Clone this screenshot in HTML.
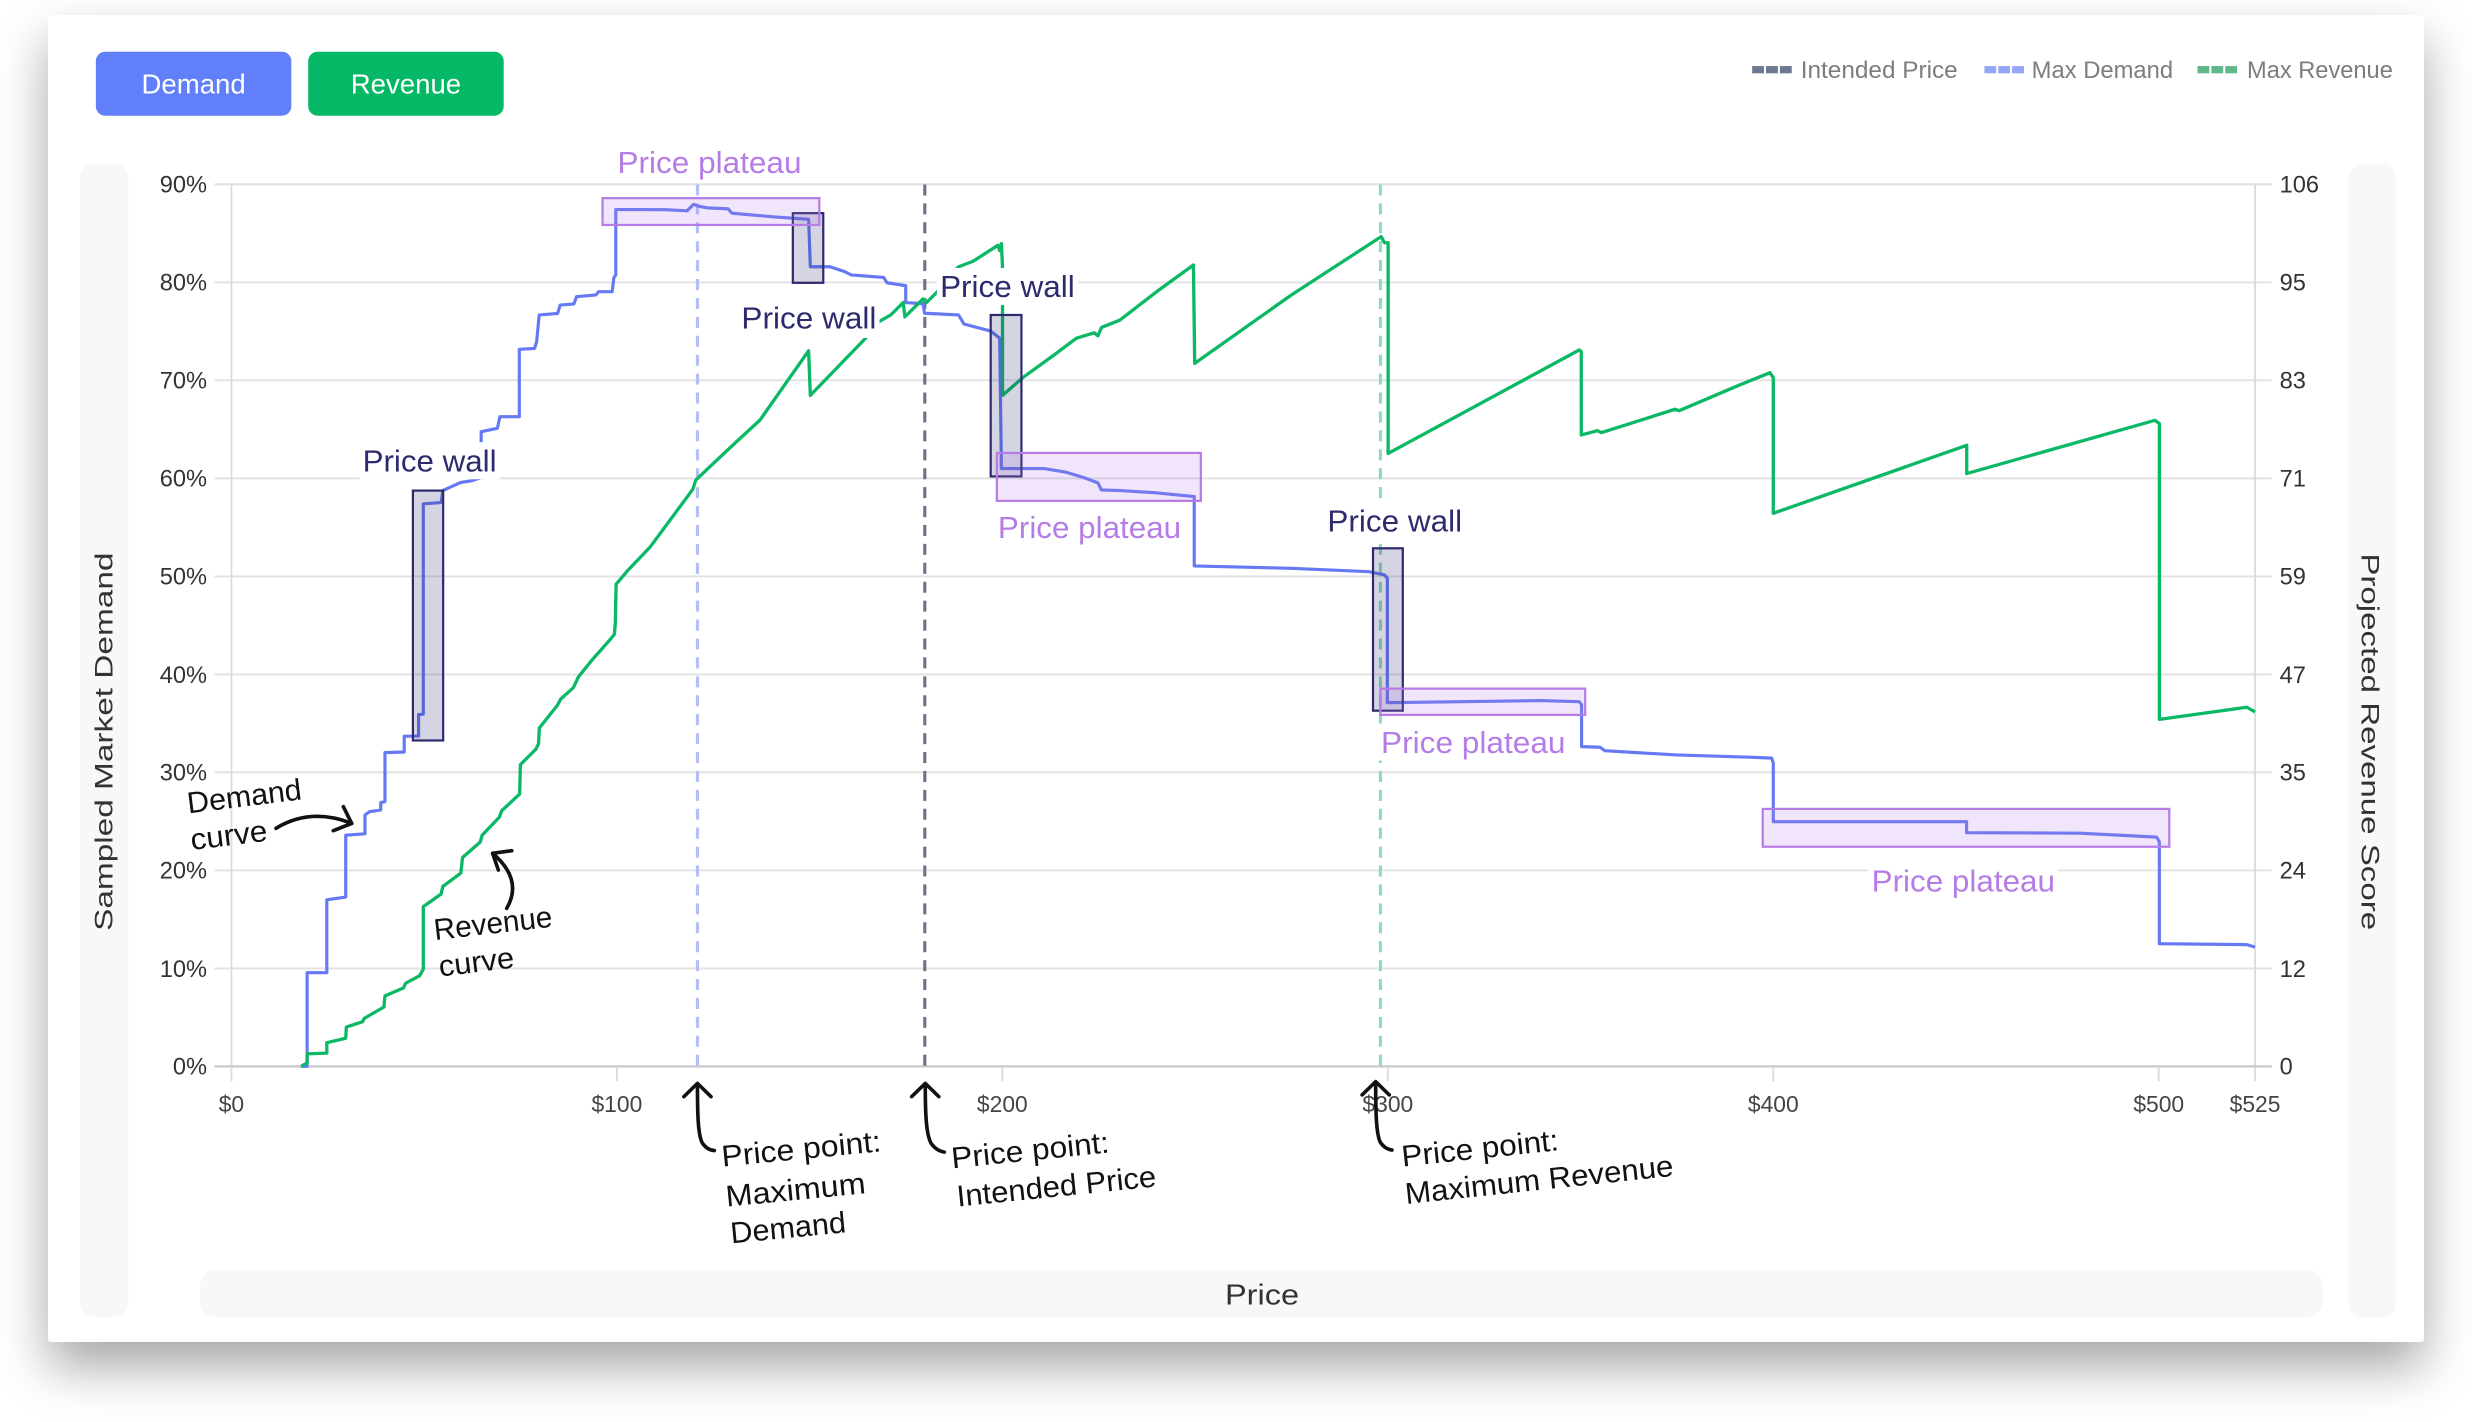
<!DOCTYPE html>
<html><head><meta charset="utf-8"><style>
html,body{margin:0;padding:0;background:#fff;}
body{width:2472px;height:1422px;position:relative;overflow:hidden;}
.card{position:absolute;left:48px;top:15px;width:2376px;height:1327px;background:#fff;box-shadow:0 25px 50px rgba(0,0,0,0.35);border-radius:3px;}
svg{position:absolute;left:0;top:0;}
text{font-family:"Liberation Sans",Arial,sans-serif;}
</style></head><body>
<div class="card"></div>
<svg width="2472" height="1422" viewBox="0 0 1568 902" preserveAspectRatio="none">
<!-- buttons -->
<rect x="60.8" y="32.8" width="124" height="40.6" rx="6" fill="#617ff9"/>
<text x="122.8" y="59.3" font-size="17.5" fill="#fff" text-anchor="middle">Demand</text>
<rect x="195.5" y="32.8" width="124" height="40.6" rx="6" fill="#04b866"/>
<text x="257.5" y="59.3" font-size="17.5" fill="#fff" text-anchor="middle">Revenue</text>

<!-- legend -->
<g>
<rect x="1111.4" y="41.9" width="7.5" height="4.6" fill="#6b7a90"/><rect x="1120.2" y="41.9" width="7.5" height="4.6" fill="#6b7a90"/><rect x="1129" y="41.9" width="7.5" height="4.6" fill="#6b7a90"/>
<text x="1142.2" y="49.6" font-size="15" fill="#7d7d7d" textLength="99.6" lengthAdjust="spacingAndGlyphs">Intended Price</text>
<rect x="1258.7" y="41.9" width="7.5" height="4.6" fill="#94a6f7"/><rect x="1267.5" y="41.9" width="7.5" height="4.6" fill="#94a6f7"/><rect x="1276.3" y="41.9" width="7.5" height="4.6" fill="#94a6f7"/>
<text x="1288.7" y="49.6" font-size="15" fill="#7d7d7d" textLength="89.7" lengthAdjust="spacingAndGlyphs">Max Demand</text>
<rect x="1393.9" y="41.9" width="7.5" height="4.6" fill="#60b88a"/><rect x="1402.7" y="41.9" width="7.5" height="4.6" fill="#60b88a"/><rect x="1411.5" y="41.9" width="7.5" height="4.6" fill="#60b88a"/>
<text x="1425.3" y="49.6" font-size="15" fill="#7d7d7d" textLength="92.5" lengthAdjust="spacingAndGlyphs">Max Revenue</text>
</g>

<!-- side panels -->
<rect x="50.7" y="103.6" width="30.7" height="732" rx="9.5" fill="#f8f8f8"/>
<rect x="1489.6" y="103.6" width="30.4" height="732" rx="9.5" fill="#f8f8f8"/>
<rect x="126.9" y="805.6" width="1346.5" height="30" rx="9.5" fill="#f8f8f8"/>
<text transform="translate(71.5,470.5) rotate(-90)" font-size="16" fill="#333" text-anchor="middle" textLength="240" lengthAdjust="spacingAndGlyphs">Sampled Market Demand</text>
<text transform="translate(1498,470.5) rotate(90)" font-size="16" fill="#333" text-anchor="middle" textLength="239" lengthAdjust="spacingAndGlyphs">Projected Revenue Score</text>
<text x="800.5" y="827.5" font-size="18" fill="#333" text-anchor="middle" textLength="47" lengthAdjust="spacingAndGlyphs">Price</text>

<!-- gridlines -->
<g stroke="#e3e3e3" stroke-width="1.3">
<line x1="136" y1="116.9" x2="1441" y2="116.9"/>
<line x1="136" y1="179.1" x2="1441" y2="179.1"/>
<line x1="136" y1="241.2" x2="1441" y2="241.2"/>
<line x1="136" y1="303.4" x2="1441" y2="303.4"/>
<line x1="136" y1="365.6" x2="1441" y2="365.6"/>
<line x1="136" y1="427.8" x2="1441" y2="427.8"/>
<line x1="136" y1="489.9" x2="1441" y2="489.9"/>
<line x1="136" y1="552.1" x2="1441" y2="552.1"/>
<line x1="136" y1="614.3" x2="1441" y2="614.3"/>
</g>
<g stroke="#dcdcdc" stroke-width="1.2">
<line x1="146.8" y1="116.9" x2="146.8" y2="686"/>
<line x1="1430.4" y1="116.9" x2="1430.4" y2="686"/>
<line x1="391.3" y1="676.4" x2="391.3" y2="686"/>
<line x1="635.8" y1="676.4" x2="635.8" y2="686"/>
<line x1="880.3" y1="676.4" x2="880.3" y2="686"/>
<line x1="1124.8" y1="676.4" x2="1124.8" y2="686"/>
<line x1="1369.3" y1="676.4" x2="1369.3" y2="686"/>
</g>
<line x1="136" y1="676.4" x2="1441" y2="676.4" stroke="#cdcdcd" stroke-width="1.6"/>

<!-- y labels -->
<g font-size="15" fill="#333" text-anchor="end">
<text x="131.3" y="122.2">90%</text>
<text x="131.3" y="184.4">80%</text>
<text x="131.3" y="246.5">70%</text>
<text x="131.3" y="308.7">60%</text>
<text x="131.3" y="370.9">50%</text>
<text x="131.3" y="433.1">40%</text>
<text x="131.3" y="495.2">30%</text>
<text x="131.3" y="557.4">20%</text>
<text x="131.3" y="619.6">10%</text>
<text x="131.3" y="681.7">0%</text>
</g>
<g font-size="15" fill="#333">
<text x="1446" y="122.2">106</text>
<text x="1446" y="184.4">95</text>
<text x="1446" y="246.5">83</text>
<text x="1446" y="308.7">71</text>
<text x="1446" y="370.9">59</text>
<text x="1446" y="433.1">47</text>
<text x="1446" y="495.2">35</text>
<text x="1446" y="557.4">24</text>
<text x="1446" y="619.6">12</text>
<text x="1446" y="681.7">0</text>
</g>
<g font-size="14.5" fill="#444" text-anchor="middle">
<text x="146.8" y="705.3">$0</text>
<text x="391.3" y="705.3">$100</text>
<text x="635.8" y="705.3">$200</text>
<text x="880.3" y="705.3">$300</text>
<text x="1124.8" y="705.3">$400</text>
<text x="1369.3" y="705.3">$500</text>
<text x="1430.4" y="705.3">$525</text>
</g>

<!-- dashed reference lines -->
<g stroke-width="2" stroke-dasharray="7 5" fill="none">
<line x1="442.4" y1="117" x2="442.4" y2="676" stroke="#b3c0f8"/>
<line x1="586.6" y1="117" x2="586.6" y2="676" stroke="#6c7585"/>
<line x1="875.6" y1="117" x2="875.6" y2="676" stroke="#8fdcb6"/>
</g>

<!-- demand curve -->
<path fill="none" stroke="#6479f3" stroke-width="2" stroke-linejoin="round" d="M191,676.4 L194.8,676.4 L194.8,617 L207.3,617 L207.3,570.8 L219.3,569 L219.3,529.8 L231.5,528.9 L231.5,517 L234.3,514.9 L241.5,513.8 L241.5,509.1 L244.2,508.5 L244.2,477.4 L256.4,477 L256.4,467 L265.5,466.9 L265.5,453.3 L268.5,453 L268.5,319.6 L279.8,318.8 L280.9,311.2 L292.2,306 L299,305 L305.2,303 L305.2,273.8 L315.5,271.7 L317.1,264.3 L329.4,264.3 L329.4,221.6 L339.1,221 L340.4,216.7 L342,199.8 L353.7,198.8 L355.3,193.5 L364,192.8 L365.7,188.2 L378,187.1 L379.6,185 L388.3,185 L389.4,176 L390.6,174.4 L390.6,132.9 L422.3,133 L435.9,133.7 L439.9,129.6 L442.7,130.7 L448.3,131.8 L461.9,132.5 L464.2,135.2 L490.2,137.5 L512.9,139.1 L514,169.2 L526.5,169.2 L535.5,172.2 L540,174.4 L560.5,176 L562.7,179.4 L574.5,181.2 L574.5,191.9 L585.4,192.6 L586.5,198.7 L608,199.8 L611.4,205.5 L628.4,210 L634.1,214.5 L635.2,297.2 L662.4,297.2 L676,299.5 L687.3,302.9 L696.4,306.3 L698.7,310.8 L710.4,311.2 L732.4,312.5 L757.5,315 L757.5,359 L819.1,360.5 L868.3,362.6 L878.2,364.7 L880,366.8 L880,445.7 L976.8,444.4 L1001.7,445.1 L1003.2,447 L1003.2,473.6 L1014.9,474 L1018,476.2 L1038.1,477.4 L1063.5,478.9 L1112.1,480.4 L1123.8,480.9 L1124.8,484 L1124.8,521.2 L1247.4,521.2 L1247.4,528.2 L1319.4,528.5 L1368,531 L1369.7,534 L1369.7,598.6 L1425.1,599.2 L1430.4,600.8"/>

<!-- revenue curve -->
<path fill="none" stroke="#0bb866" stroke-width="2.1" stroke-linejoin="round" d="M191,676.4 L194.8,674.2 L194.8,668.5 L207.3,668 L207.3,661.4 L219.3,658.6 L219.7,651.5 L230,648.1 L231.1,645.9 L243.5,638.8 L244.2,631.7 L256,626.6 L257.1,623.8 L266.2,618.9 L268.5,614.7 L268.5,575.1 L279.8,567.1 L280.9,562.3 L292.3,553.8 L293.4,543.9 L304.7,534 L305.8,529.8 L316.7,518.4 L318.3,514.2 L329.6,503.7 L330.1,485 L339.8,475.4 L341.6,471.7 L342.1,461.8 L353.4,447.6 L355.7,443.4 L363.6,436.3 L367,429.2 L375,419.3 L387.4,405.2 L389.7,402.3 L390.3,395.2 L390.8,370.6 L398.7,361.3 L412.3,347.1 L439.5,310.3 L441.3,304.6 L448.6,297.6 L466.7,280.6 L482.1,266.4 L512.9,222.5 L514,250.8 L549.1,214.5 L557.1,204.3 L565,199.8 L572.9,191.9 L574,201 L585.4,189.6 L587.7,191.9 L594.5,185.1 L608,169.2 L617.1,165.8 L633,155.6 L634.1,159 L635.2,154.5 L635.9,169.2 L635.9,250.8 L648.8,239.5 L669.2,224.7 L682.8,214.5 L694.1,211.1 L696.4,213 L698.7,207.7 L710.4,203 L733.7,185 L757,168.1 L757.8,230.5 L819.1,187.1 L876.1,150.1 L878.2,154 L880.5,154 L880.5,287.6 L1001.7,222 L1003,223 L1003,275.9 L1013.3,273.2 L1015.9,274.4 L1062.5,259.6 L1065.1,260.5 L1103.7,244.1 L1122.7,236.4 L1124.8,239.5 L1124.8,325.6 L1247.5,282.5 L1247.5,300.4 L1366.9,266.6 L1369.7,268.7 L1369.7,456.3 L1425.1,448.6 L1430.4,451.6"/>

<!-- price wall boxes -->
<g fill="#2e2a6e" fill-opacity="0.2" stroke="#2e2a6e" stroke-width="1.4">
<rect x="261.9" y="311.2" width="19.2" height="158.5"/>
<rect x="502.9" y="135.2" width="19.3" height="44.2"/>
<rect x="628.4" y="199.8" width="19.5" height="102.4"/>
<rect x="870.9" y="347.8" width="18.9" height="103"/>
</g>
<!-- price plateau boxes -->
<g fill="#b57be6" fill-opacity="0.2" stroke="#b57be6" stroke-width="1.4">
<rect x="382.2" y="125.7" width="137.5" height="17"/>
<rect x="632.3" y="287.3" width="129.4" height="30.4"/>
<rect x="875.6" y="436.8" width="129.9" height="16.7"/>
<rect x="1118.1" y="513.1" width="257.9" height="24"/>
</g>

<!-- label backgrounds -->
<g fill="#fff">
<rect x="228" y="280.5" width="89" height="23.5"/>
<rect x="468.3" y="189.9" width="89.6" height="24.5"/>
<rect x="594.3" y="170" width="89.4" height="23.5"/>
<rect x="631" y="323" width="120" height="23.5"/>
<rect x="840" y="318.7" width="89.4" height="23.5"/>
<rect x="874" y="459" width="121" height="23.5"/>
<rect x="1185.2" y="547" width="120.3" height="23.5"/>
</g>
<!-- labels -->
<g font-size="19.5" fill="#2e2a6e">
<text x="230" y="299" textLength="85" lengthAdjust="spacingAndGlyphs">Price wall</text>
<text x="470.3" y="208.4" textLength="85.6" lengthAdjust="spacingAndGlyphs">Price wall</text>
<text x="596.3" y="188.5" textLength="85.4" lengthAdjust="spacingAndGlyphs">Price wall</text>
<text x="842" y="337.2" textLength="85.4" lengthAdjust="spacingAndGlyphs">Price wall</text>
</g>
<g font-size="19.5" fill="#b57be6">
<text x="391.7" y="109.6" textLength="116.7" lengthAdjust="spacingAndGlyphs">Price plateau</text>
<text x="633" y="341.4" textLength="116.2" lengthAdjust="spacingAndGlyphs">Price plateau</text>
<text x="876" y="477.5" textLength="117" lengthAdjust="spacingAndGlyphs">Price plateau</text>
<text x="1187.2" y="565.4" textLength="116.3" lengthAdjust="spacingAndGlyphs">Price plateau</text>
</g>

<!-- annotations -->
<g fill="none" stroke="#111" stroke-width="2.3" stroke-linecap="round" stroke-linejoin="round">
<path d="M175.1,525.4 Q197,512 223.1,522.3"/>
<path d="M217.8,511.7 L223.1,522.3 L211.4,526.9"/>
<path d="M321.4,576.2 Q332,558 312.5,541.3"/>
<path d="M324.6,539.6 L312.5,541.3 L316.1,551.9"/>
<path d="M442.4,688 C442.4,705 442.6,720 445.5,725 Q448.5,729.5 453.1,729.8"/>
<path d="M433.8,695.6 L442.4,687.2 L451,695.6"/>
<path d="M586.9,688 C586.9,705 587.3,720 590.8,725.5 Q594,730 599,730.8"/>
<path d="M578.3,695.6 L586.9,687.2 L595.5,695.6"/>
<path d="M872.6,687 C872.6,704 872.8,719 875.5,724.5 Q878.5,729 882.9,729.5"/>
<path d="M864,694.5 L872.6,686.1 L881.2,694.5"/>
</g>
<g font-size="19" fill="#111">
<text transform="translate(119.5,515.9) rotate(-7)" textLength="73" lengthAdjust="spacingAndGlyphs">Demand</text>
<text transform="translate(121.6,539.2) rotate(-7)" textLength="49" lengthAdjust="spacingAndGlyphs">curve</text>
<text transform="translate(275.9,596.3) rotate(-6.5)" textLength="75.5" lengthAdjust="spacingAndGlyphs">Revenue</text>
<text transform="translate(279.1,619.5) rotate(-7)" textLength="48" lengthAdjust="spacingAndGlyphs">curve</text>
<text transform="translate(458.3,740) rotate(-5.5)" textLength="101.5" lengthAdjust="spacingAndGlyphs">Price point:</text>
<text transform="translate(460.9,765.4) rotate(-5.5)" textLength="89" lengthAdjust="spacingAndGlyphs">Maximum</text>
<text transform="translate(463.9,788.7) rotate(-5.5)" textLength="73.5" lengthAdjust="spacingAndGlyphs">Demand</text>
<text transform="translate(604.1,741.1) rotate(-5.8)" textLength="100.5" lengthAdjust="spacingAndGlyphs">Price point:</text>
<text transform="translate(607.5,765.4) rotate(-5.8)" textLength="127" lengthAdjust="spacingAndGlyphs">Intended Price</text>
<text transform="translate(889.7,740) rotate(-6)" textLength="100" lengthAdjust="spacingAndGlyphs">Price point:</text>
<text transform="translate(891.9,763.7) rotate(-6)" textLength="171" lengthAdjust="spacingAndGlyphs">Maximum Revenue</text>
</g>
</svg>
</body></html>
